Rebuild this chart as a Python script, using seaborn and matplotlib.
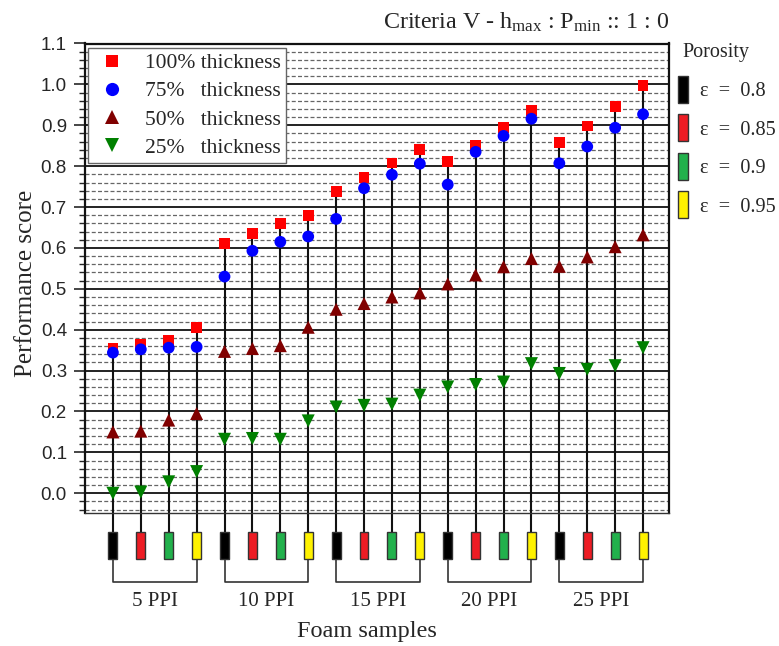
import numpy as np
import pandas as pd
import matplotlib
matplotlib.use("Agg")
import matplotlib.pyplot as plt
from matplotlib.patches import Rectangle
from matplotlib.lines import Line2D
from matplotlib.ticker import MultipleLocator, FormatStrFormatter
import seaborn as sns

# ---- data -------------------------------------------------------------
ppi_groups = ["5 PPI", "10 PPI", "15 PPI", "20 PPI", "25 PPI"]
porosity_labels = ["ε  =  0.8", "ε  =  0.85", "ε  =  0.9", "ε  =  0.95"]
porosity_colors = ["#000000", "#ed1c24", "#22b14c", "#fff200"]

thickness_labels = ["100% thickness", "75%   thickness", "50%   thickness", "25%   thickness"]

score_100 = [0.354, 0.364, 0.374, 0.405, 0.611, 0.636, 0.660, 0.679, 0.738, 0.772,
             0.808, 0.840, 0.811, 0.851, 0.894, 0.937, 0.858, 0.898, 0.946, 0.998]
score_75 = [0.344, 0.352, 0.356, 0.358, 0.530, 0.593, 0.615, 0.628, 0.671, 0.746,
            0.779, 0.806, 0.755, 0.835, 0.874, 0.916, 0.807, 0.848, 0.894, 0.927]
score_50 = [0.150, 0.152, 0.179, 0.195, 0.347, 0.354, 0.361, 0.406, 0.450, 0.464,
            0.480, 0.490, 0.512, 0.534, 0.554, 0.574, 0.555, 0.578, 0.603, 0.632]
score_25 = [0.000, 0.003, 0.028, 0.053, 0.132, 0.134, 0.132, 0.177, 0.211, 0.215,
            0.218, 0.240, 0.260, 0.266, 0.272, 0.317, 0.293, 0.303, 0.312, 0.356]

title_text = r"Criteria V - h$_{\mathrm{max}}$ : P$_{\mathrm{min}}$ :: 1 : 0"

# ---- long-form table --------------------------------------------------
n_por = len(porosity_labels)
positions = np.arange(1, len(ppi_groups) * n_por + 1)
series = {
    thickness_labels[0]: score_100,
    thickness_labels[1]: score_75,
    thickness_labels[2]: score_50,
    thickness_labels[3]: score_25,
}
df = pd.concat(
    [pd.DataFrame({"sample": positions, "score": vals, "thickness": name})
     for name, vals in series.items()],
    ignore_index=True,
)

style = {
    thickness_labels[0]: dict(color="#ff0000", marker="s", s=60, lsize=8.5),
    thickness_labels[1]: dict(color="#0000ff", marker="o", s=72, lsize=9.5),
    thickness_labels[2]: dict(color="#800000", marker="^", s=88, lsize=10.0),
    thickness_labels[3]: dict(color="#008000", marker="v", s=88, lsize=10.0),
}

# ---- figure -----------------------------------------------------------
sns.set_style("white")
plt.rcParams["font.family"] = ["Liberation Serif", "DejaVu Serif"]
plt.rcParams["mathtext.fontset"] = "custom"
plt.rcParams["mathtext.rm"] = "Liberation Serif"
plt.rcParams["mathtext.it"] = "Liberation Serif:italic"

W, H = 779, 646
fig = plt.figure(figsize=(W / 100, H / 100), dpi=100)
ax = fig.add_axes([85 / W, 1 - 513.3 / H, 584 / W, 469.8 / H])

ax.set_xlim(0.0, 20.93)
ax.set_ylim(-0.049, 1.1)

# grid: solid major, dashed minor
ax.yaxis.set_major_locator(MultipleLocator(0.1))
ax.yaxis.set_minor_locator(MultipleLocator(0.02))
ax.yaxis.set_major_formatter(FormatStrFormatter("%.1f"))
ax.grid(which="major", axis="y", color="#111111", lw=1.3, ls="-", zorder=0)
ax.grid(which="minor", axis="y", color="#666666", lw=0.9, ls=(0, (3.2, 1.8)), zorder=0)
ax.set_axisbelow(True)
ax.set_xticks([])

ax.tick_params(axis="y", which="major", direction="out", length=8, width=1.2,
               pad=5, labelsize=13.5, left=True, right=False)
ax.tick_params(axis="y", which="minor", direction="out", length=4.5, width=1.0,
               left=True, right=False)
for lab in ax.get_yticklabels():
    lab.set_family(["Liberation Sans", "DejaVu Sans"])

for side in ["left", "top", "right"]:
    ax.spines[side].set_linewidth(1.6)
    ax.spines[side].set_color("#111111")
ax.spines["bottom"].set_linewidth(1.0)
ax.spines["bottom"].set_color("#333333")

# stems from the highest score down to the sample tags below the axes
stem_bottom = -0.094
tag_bottom = -0.161
bracket_y = -0.216
top_vals = df.groupby("sample")["score"].max().reindex(positions).values
ax.vlines(positions, stem_bottom, top_vals, colors="#111111", lw=1.5,
          clip_on=False, zorder=2)

# markers
for name in [thickness_labels[3], thickness_labels[2], thickness_labels[0], thickness_labels[1]]:
    st = style[name]
    sns.scatterplot(data=df[df["thickness"] == name], x="sample", y="score",
                    color=st["color"], marker=st["marker"], s=st["s"],
                    edgecolor="none", linewidth=0, legend=False, ax=ax, zorder=4,
                    clip_on=False)

# colour tags per sample and brackets per PPI group
tag_w = 0.32
for g, gname in enumerate(ppi_groups):
    grp = positions[g * n_por:(g + 1) * n_por]
    for k, p in enumerate(grp):
        ax.add_patch(Rectangle((p - tag_w / 2, tag_bottom), tag_w, stem_bottom - tag_bottom,
                               facecolor=porosity_colors[k], edgecolor="#333333", lw=1.0,
                               clip_on=False, zorder=3))
    ax.plot([grp[0], grp[0], grp[-1], grp[-1]],
            [tag_bottom, bracket_y, bracket_y, tag_bottom],
            color="#333333", lw=1.2, clip_on=False, zorder=2)
    ax.text(grp.mean(), -0.265, gname, ha="center", va="center", fontsize=15,
            clip_on=False)

ax.set_xlabel("")
ax.set_ylabel("Performance score", fontsize=18)
ax.yaxis.set_label_coords(-0.083, 0.49)
ax.set_title(title_text, loc="right", fontsize=17.3, pad=11)


def fx(px):
    return px / W


def fy(py):
    return 1 - py / H


fig.text(fx(367), fy(632), "Foam samples", fontsize=17.5, ha="center", va="center")

# thickness legend
handles = [Line2D([], [], ls="none", marker=style[n]["marker"], color=style[n]["color"],
                  markersize=style[n]["lsize"], markeredgewidth=0) for n in thickness_labels]
leg = ax.legend(handles, thickness_labels, loc="upper left",
                bbox_to_anchor=(0.005, 0.99), borderaxespad=0, fontsize=15.5,
                handlelength=1.8, handletextpad=0.6, labelspacing=0.37,
                borderpad=0.24, frameon=True, fancybox=False, framealpha=1)
leg.get_frame().set_edgecolor("#666666")
leg.get_frame().set_linewidth(1.0)
leg.set_zorder(6)

# porosity key to the right of the axes
fig.text(fx(682), fy(53), "Porosity", fontsize=14.5, ha="left", va="center")
for k, (lab, col) in enumerate(zip(porosity_labels, porosity_colors)):
    top = 76 + 38.4 * k
    fig.add_artist(Rectangle((fx(678), fy(top + 27)), 10 / W, 27 / H,
                             facecolor=col, edgecolor="#333333", lw=1.0,
                             transform=fig.transFigure))
    fig.text(fx(700), fy(top + 16), lab, fontsize=14.6, ha="left", va="center")

fig.savefig("out.png", dpi=100)
